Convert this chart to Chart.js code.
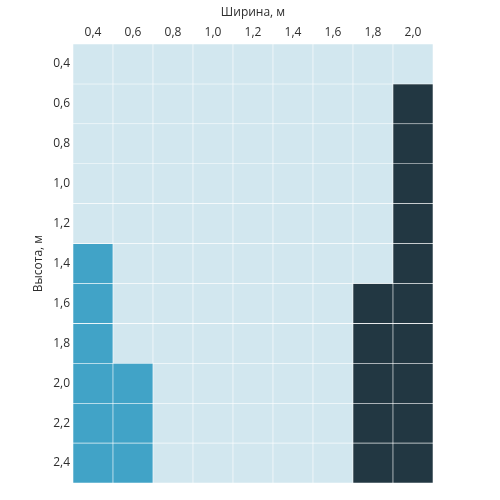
<!DOCTYPE html>
<html>
<head>
<meta charset="utf-8">
<script src="https://cdn.jsdelivr.net/npm/chart.js@4"></script>
<style>
  html, body { margin: 0; padding: 0; background: #fff; }
  #wrap { width: 500px; height: 500px; }
</style>
</head>
<body>
<div id="wrap"><canvas id="myChart" width="500" height="500"></canvas></div>
<script>
// ширина (столбцы)
const widths = ['0,4', '0,6', '0,8', '1,0', '1,2', '1,4', '1,6', '1,8', '2,0'];
// высота (строки)
const heights = ['0,4', '0,6', '0,8', '1,0', '1,2', '1,4', '1,6', '1,8', '2,0', '2,2', '2,4'];
// уровень ячейки: 0 — светлый, 1 — голубой, 2 — тёмный
const levels = [
    [0, 0, 0, 0, 0, 0, 0, 0, 0],
    [0, 0, 0, 0, 0, 0, 0, 0, 2],
    [0, 0, 0, 0, 0, 0, 0, 0, 2],
    [0, 0, 0, 0, 0, 0, 0, 0, 2],
    [0, 0, 0, 0, 0, 0, 0, 0, 2],
    [1, 0, 0, 0, 0, 0, 0, 0, 2],
    [1, 0, 0, 0, 0, 0, 0, 2, 2],
    [1, 0, 0, 0, 0, 0, 0, 2, 2],
    [1, 1, 0, 0, 0, 0, 0, 2, 2],
    [1, 1, 0, 0, 0, 0, 0, 2, 2],
    [1, 1, 0, 0, 0, 0, 0, 2, 2]
];
const levelColors = ['#d2e7ef', '#41a3c7', '#223742'];

const font = { family: '"Open Sans", sans-serif', size: 12 };
const textColor = '#2e2e2e';

const datasets = heights.map((h, i) => ({
    label: h,
    data: widths.map(() => [i, i + 1]),
    backgroundColor: levels[i].map(v => levelColors[v]),
    borderColor: '#ffffff',
    borderWidth: 0.6,
    borderSkipped: false,
    barPercentage: 1,
    categoryPercentage: 1,
    grouped: false
}));

new Chart(document.getElementById('myChart'), {
    type: 'bar',
    data: { labels: widths, datasets: datasets },
    options: {
        responsive: false,
        animation: false,
        layout: { padding: { left: 31, right: 67, top: 0, bottom: 17 } },
        plugins: { legend: { display: false }, tooltip: { enabled: false } },
        scales: {
            x: {
                position: 'top',
                grid: { display: false, drawTicks: false },
                border: { display: false },
                ticks: { color: textColor, font: font, padding: 4 },
                title: { display: true, text: 'Ширина, м', color: textColor, font: font, padding: { top: 5, bottom: 2 } },
                afterFit: s => { s.height = 44; }
            },
            y: {
                reverse: true,
                min: 0,
                max: heights.length,
                grid: { display: false, drawTicks: false },
                border: { display: false },
                afterBuildTicks: s => { s.ticks = heights.map((h, i) => ({ value: i + 0.5 })); },
                ticks: {
                    color: textColor,
                    font: font,
                    padding: 3,
                    autoSkip: false,
                    callback: (v) => heights[Math.floor(v)]
                },
                title: { display: true, text: 'Высота, м', color: textColor, font: font, padding: { top: 0, bottom: 0 } },
                afterFit: s => { s.width = 42; }
            }
        }
    }
});
</script>
</body>
</html>
